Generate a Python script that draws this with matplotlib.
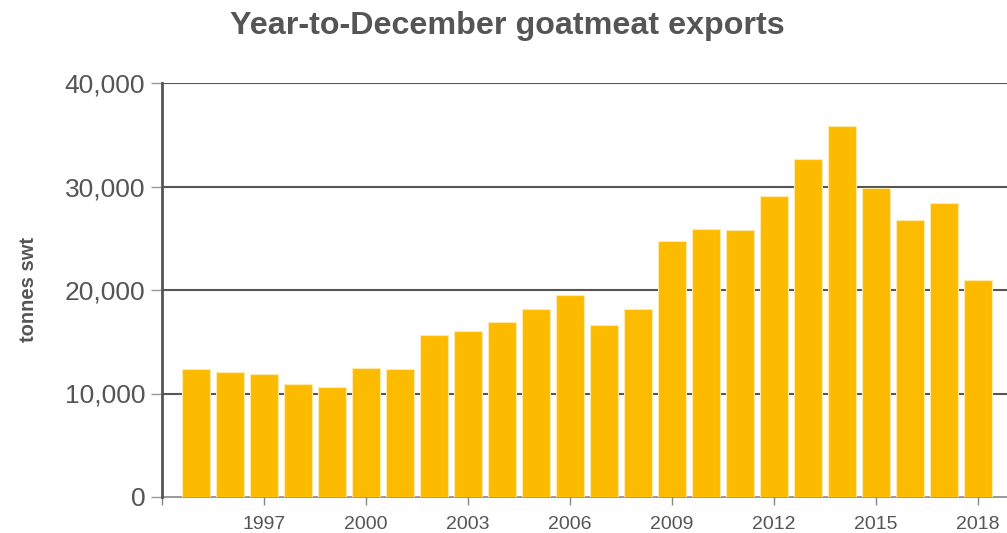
import matplotlib
matplotlib.use("Agg")
import matplotlib.pyplot as plt
from matplotlib.ticker import FuncFormatter

years = list(range(1995, 2019))
exports = [12400, 12100, 11900, 10900, 10600, 12500, 12400, 15700, 16000, 16900,
           18200, 19500, 16600, 18200, 24700, 25900, 25800, 29100, 32700, 35800,
           29900, 26800, 28400, 21000]
x_ticks = list(range(1994, 2019, 3))
x_labels = ["" if y == 1994 else str(y) for y in x_ticks]
y_ticks = [0, 10000, 20000, 30000, 40000]

plt.rcParams['font.family'] = ['Liberation Sans', 'DejaVu Sans']
grey = "#555555"

fig = plt.figure(figsize=(10.07, 5.33), dpi=100)
ax = fig.add_axes([162/1007, 36/533, 845/1007, 414/533])

ax.bar(years, exports, width=0.8, color="#FDBB00", edgecolor="#FFE9A8",
       linewidth=0.8, zorder=3)

ax.set_xlim(1994, 1994 + 845/34)
ax.set_ylim(0, 40000)
ax.set_yticks(y_ticks)
ax.yaxis.set_major_formatter(FuncFormatter(lambda v, p: f"{int(v):,}"))
ax.set_xticks(x_ticks)
ax.set_xticklabels(x_labels)

for v in y_ticks[1:]:
    ax.axhline(v, color=grey, linewidth=1.5, zorder=2)

for s in ["top", "right"]:
    ax.spines[s].set_visible(False)
ax.spines["left"].set_color(grey)
ax.spines["left"].set_linewidth(2)
ax.spines["bottom"].set_color("#888888")
ax.spines["bottom"].set_linewidth(1.2)
ax.spines["left"].set_zorder(4)

ax.tick_params(axis="y", length=8, width=1, color="#999999", labelsize=19,
               labelcolor=grey, pad=4)
ax.tick_params(axis="x", length=6, width=1, color="#888888", labelsize=14,
               labelcolor=grey, pad=8)

ax.set_ylabel("tonnes swt", fontsize=14.5, fontweight="bold", color=grey,
              labelpad=0)
ax.yaxis.set_label_coords(-124/845, 0.5)

fig.text(507/1007, 1 - 26/533, "Year-to-December goatmeat exports",
         ha="center", va="center", fontsize=23.2, fontweight="bold", color=grey)

fig.savefig("out.png", dpi=100)
